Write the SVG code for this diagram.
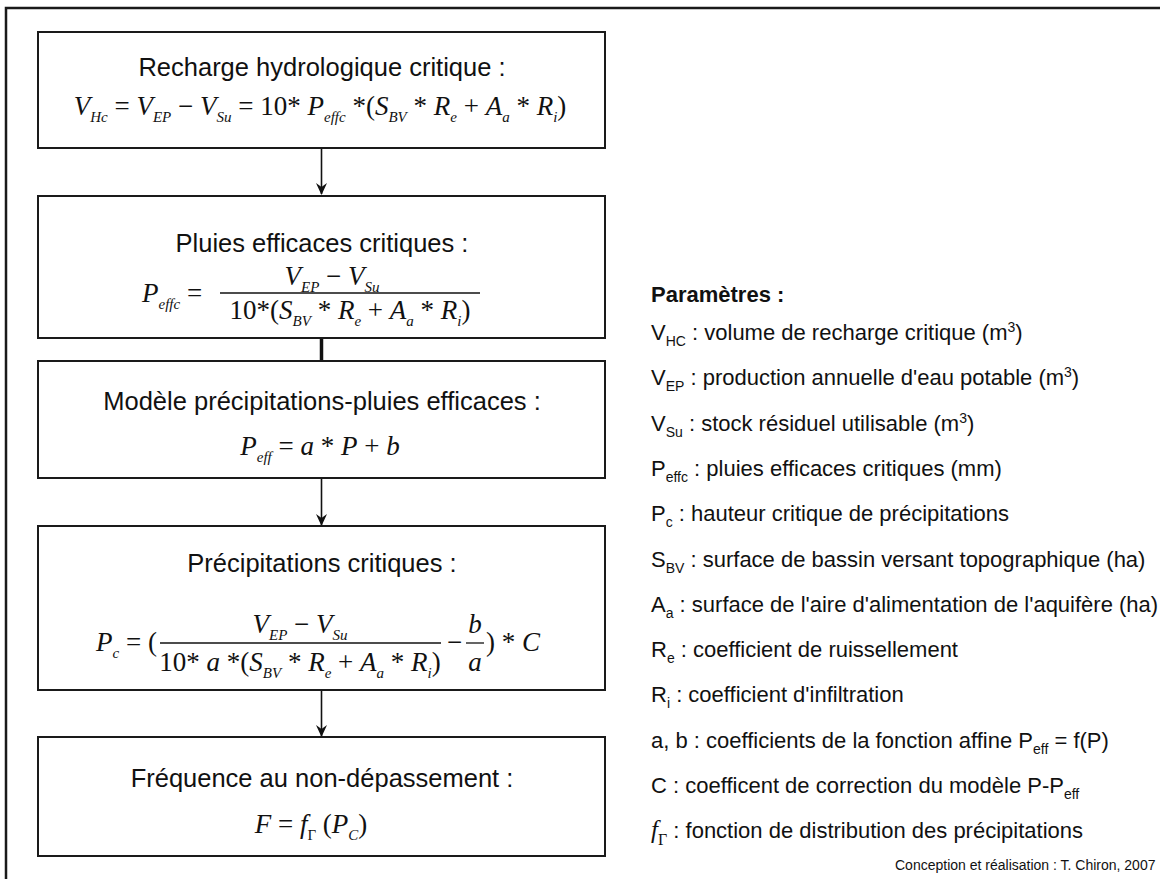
<svg xmlns="http://www.w3.org/2000/svg" width="1160" height="879" viewBox="0 0 1160 879">
<defs>
<style>
.frame{fill:none;stroke:#1a1a1a;stroke-width:2.5}
.box{fill:#fff;stroke:#1a1a1a;stroke-width:2}
.t{font-family:"Liberation Sans",Arial,sans-serif;font-size:25.5px;fill:#111}
.m{font-family:"Liberation Serif","Times New Roman",serif;font-size:27px;fill:#111}
.i{font-style:italic}
.s{font-size:15px}
.p{font-family:"Liberation Sans",Arial,sans-serif;font-size:22px;fill:#111}
.ps{font-size:14px}
.b{font-weight:bold}
.bar{stroke:#111;stroke-width:1.3}
.con{stroke:#111;stroke-width:1.6;fill:none}
.thick{stroke:#111;stroke-width:3.5;fill:none}
.head{fill:#111}
.cr{font-family:"Liberation Sans",Arial,sans-serif;font-size:14px;fill:#111}
</style>
</defs>
<rect width="1160" height="879" fill="#fff"/>
<rect class="frame" x="6" y="8" width="1300" height="1000"/>

<g id="connectors">
<line class="con" x1="321.5" y1="148" x2="321.5" y2="194"/>
<path class="head" d="M316,183 L321.5,195 L327,183 L321.5,187 Z"/>
<line class="thick" x1="321.5" y1="338" x2="321.5" y2="361"/>
<line class="con" x1="321.5" y1="478" x2="321.5" y2="525"/>
<path class="head" d="M316,514 L321.5,526 L327,514 L321.5,518 Z"/>
<line class="con" x1="321.5" y1="690" x2="321.5" y2="736"/>
<path class="head" d="M316,725 L321.5,737 L327,725 L321.5,729 Z"/>
</g>

<g id="node1">
<rect class="box" x="38" y="32" width="567" height="116"/>
<text class="t" x="322" y="76" text-anchor="middle">Recharge hydrologique critique :</text>
<text class="m" x="320" y="115" text-anchor="middle"><tspan class="i">V</tspan><tspan class="i s" dy="7">Hc</tspan><tspan dy="-7"> = </tspan><tspan class="i">V</tspan><tspan class="i s" dy="7">EP</tspan><tspan dy="-7"> − </tspan><tspan class="i">V</tspan><tspan class="i s" dy="7">Su</tspan><tspan dy="-7"> = 10* </tspan><tspan class="i">P</tspan><tspan class="i s" dy="7">effc</tspan><tspan dy="-7"> *(</tspan><tspan class="i">S</tspan><tspan class="i s" dy="7">BV</tspan><tspan dy="-7"> * </tspan><tspan class="i">R</tspan><tspan class="i s" dy="7">e</tspan><tspan dy="-7"> + </tspan><tspan class="i">A</tspan><tspan class="i s" dy="7">a</tspan><tspan dy="-7"> * </tspan><tspan class="i">R</tspan><tspan class="i s" dy="7">i</tspan><tspan dy="-7">)</tspan></text>
</g>

<g id="node2">
<rect class="box" x="38" y="196" width="567" height="142"/>
<text class="t" x="322" y="252" text-anchor="middle">Pluies efficaces critiques :</text>
<text class="m" x="142" y="302"><tspan class="i">P</tspan><tspan class="i s" dy="7">effc</tspan><tspan dy="-7"> =</tspan></text>
<text class="m" x="332" y="285" text-anchor="middle"><tspan class="i">V</tspan><tspan class="i s" dy="7">EP</tspan><tspan dy="-7"> − </tspan><tspan class="i">V</tspan><tspan class="i s" dy="7">Su</tspan></text>
<line class="bar" x1="220" y1="293" x2="480" y2="293"/>
<text class="m" x="350" y="319" text-anchor="middle"><tspan>10*(</tspan><tspan class="i">S</tspan><tspan class="i s" dy="7">BV</tspan><tspan dy="-7"> * </tspan><tspan class="i">R</tspan><tspan class="i s" dy="7">e</tspan><tspan dy="-7"> + </tspan><tspan class="i">A</tspan><tspan class="i s" dy="7">a</tspan><tspan dy="-7"> * </tspan><tspan class="i">R</tspan><tspan class="i s" dy="7">i</tspan><tspan dy="-7">)</tspan></text>
</g>

<g id="node3">
<rect class="box" x="38" y="361" width="567" height="117"/>
<text class="t" x="322" y="410" text-anchor="middle">Modèle précipitations-pluies efficaces :</text>
<text class="m" x="320" y="455" text-anchor="middle"><tspan class="i">P</tspan><tspan class="i s" dy="7">eff</tspan><tspan dy="-7"> = </tspan><tspan class="i">a</tspan><tspan> * </tspan><tspan class="i">P</tspan><tspan> + </tspan><tspan class="i">b</tspan></text>
</g>

<g id="node4">
<rect class="box" x="38" y="526" width="567" height="164"/>
<text class="t" x="322" y="572" text-anchor="middle">Précipitations critiques :</text>
<text class="m" x="96" y="651"><tspan class="i">P</tspan><tspan class="i s" dy="7">c</tspan><tspan dy="-7"> = (</tspan></text>
<text class="m" x="300" y="633" text-anchor="middle"><tspan class="i">V</tspan><tspan class="i s" dy="7">EP</tspan><tspan dy="-7"> − </tspan><tspan class="i">V</tspan><tspan class="i s" dy="7">Su</tspan></text>
<line class="bar" x1="160" y1="643" x2="441" y2="643"/>
<text class="m" x="300" y="671" text-anchor="middle"><tspan>10* </tspan><tspan class="i">a</tspan><tspan> *(</tspan><tspan class="i">S</tspan><tspan class="i s" dy="7">BV</tspan><tspan dy="-7"> * </tspan><tspan class="i">R</tspan><tspan class="i s" dy="7">e</tspan><tspan dy="-7"> + </tspan><tspan class="i">A</tspan><tspan class="i s" dy="7">a</tspan><tspan dy="-7"> * </tspan><tspan class="i">R</tspan><tspan class="i s" dy="7">i</tspan><tspan dy="-7">)</tspan></text>
<text class="m" x="447" y="651">−</text>
<text class="m i" x="475" y="633" text-anchor="middle">b</text>
<line class="bar" x1="466" y1="643" x2="484" y2="643"/>
<text class="m i" x="475" y="671" text-anchor="middle">a</text>
<text class="m" x="486" y="651"><tspan>) * </tspan><tspan class="i">C</tspan></text>
</g>

<g id="node5">
<rect class="box" x="38" y="737" width="567" height="119"/>
<text class="t" x="322" y="787" text-anchor="middle">Fréquence au non-dépassement :</text>
<text class="m" x="311" y="833" text-anchor="middle"><tspan class="i">F</tspan><tspan> = </tspan><tspan class="i">f</tspan><tspan class="s" dy="7">Γ</tspan><tspan dy="-7">  (</tspan><tspan class="i">P</tspan><tspan class="i s" dy="7">C</tspan><tspan dy="-7">)</tspan></text>
</g>

<g id="legend">
<text class="p b" x="651" y="302">Paramètres :</text>
<text class="p" x="651" y="340">V<tspan class="ps" dy="6">HC</tspan><tspan dy="-6"> : volume de recharge critique (m</tspan><tspan class="ps" dy="-8">3</tspan><tspan dy="8">)</tspan></text>
<text class="p" x="651" y="385">V<tspan class="ps" dy="6">EP</tspan><tspan dy="-6"> : production annuelle d'eau potable (m</tspan><tspan class="ps" dy="-8">3</tspan><tspan dy="8">)</tspan></text>
<text class="p" x="651" y="431">V<tspan class="ps" dy="6">Su</tspan><tspan dy="-6"> : stock résiduel utilisable (m</tspan><tspan class="ps" dy="-8">3</tspan><tspan dy="8">)</tspan></text>
<text class="p" x="651" y="476">P<tspan class="ps" dy="6">effc</tspan><tspan dy="-6"> : pluies efficaces critiques (mm)</tspan></text>
<text class="p" x="651" y="521">P<tspan class="ps" dy="6">c</tspan><tspan dy="-6"> : hauteur critique de précipitations</tspan></text>
<text class="p" x="651" y="567">S<tspan class="ps" dy="6">BV</tspan><tspan dy="-6"> : surface de bassin versant topographique (ha)</tspan></text>
<text class="p" x="651" y="612">A<tspan class="ps" dy="6">a</tspan><tspan dy="-6"> : surface de l'aire d'alimentation de l'aquifère (ha)</tspan></text>
<text class="p" x="651" y="657">R<tspan class="ps" dy="6">e</tspan><tspan dy="-6"> : coefficient de ruissellement</tspan></text>
<text class="p" x="651" y="702">R<tspan class="ps" dy="6">i</tspan><tspan dy="-6"> : coefficient d'infiltration</tspan></text>
<text class="p" x="651" y="748">a, b : coefficients de la fonction affine P<tspan class="ps" dy="6">eff</tspan><tspan dy="-6"> = f(P)</tspan></text>
<text class="p" x="651" y="793">C : coefficent de correction du modèle P-P<tspan class="ps" dy="6">eff</tspan></text>
<text class="p" x="651" y="838"><tspan font-family="Liberation Serif, serif" font-style="italic" font-size="25">f</tspan><tspan font-family="Liberation Serif, serif" font-size="16" dy="7">Γ</tspan><tspan dy="-7"> : fonction de distribution des précipitations</tspan></text>
<text class="cr" x="895" y="870">Conception et réalisation : T. Chiron, 2007</text>
</g>
</svg>
